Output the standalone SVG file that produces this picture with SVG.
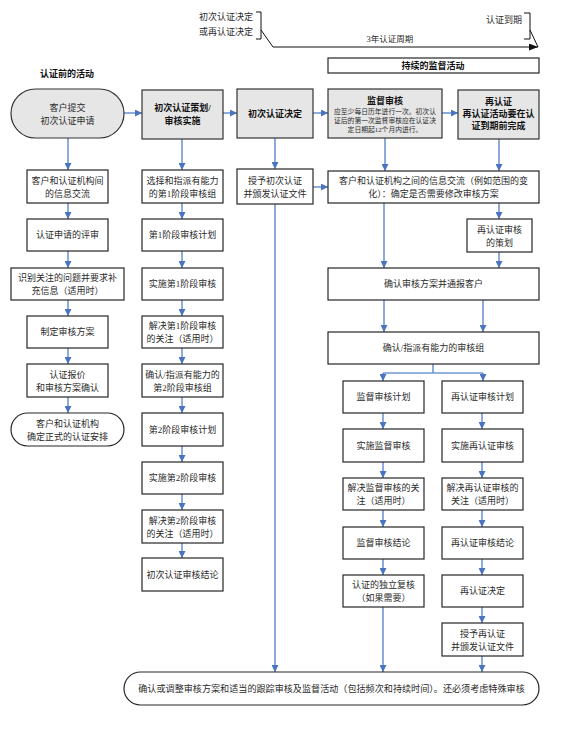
<svg xmlns="http://www.w3.org/2000/svg" width="580" height="740" viewBox="0 0 580 740">
<style>
.box{fill:#fff;stroke:#262626;stroke-width:1.2}
.hbox{fill:#e6e6e6;stroke:#333;stroke-width:1.2}
.t{font-family:"Liberation Serif","Noto Sans CJK SC",sans-serif;font-size:9px;text-anchor:middle;fill:#2a2a2a}
.b{font-weight:bold;fill:#111}
.s{font-size:6.8px}
.c{stroke:#7196d2;stroke-width:1.6;fill:none}
.k{stroke:#111;stroke-width:1;fill:none}
</style>
<defs>
<marker id="ar" markerUnits="userSpaceOnUse" markerWidth="7" markerHeight="7" refX="7" refY="3.5" orient="auto">
<path d="M0,0 L7,3.5 L0,7 z" fill="#4a74c0"/>
</marker>
<marker id="ak" markerUnits="userSpaceOnUse" markerWidth="9" markerHeight="7" refX="9" refY="3.5" orient="auto">
<path d="M0,0 L9,3.5 L0,7 z" fill="#111"/>
</marker>
</defs>

<g id="timeline">
<text class="t" x="226" y="20">初次认证决定</text>
<text class="t" x="226" y="35">或再认证决定</text>
<path class="k" d="M256,12 H261 V39 H256"/>
<path class="k" d="M261,30 L273,47 H538" marker-end="url(#ak)"/>
<text class="t" x="504" y="23">认证到期</text>
<path class="k" d="M524,13 H530 V39 H524"/>
<path class="k" d="M530,30 L538,47"/>
<text class="t" x="390" y="42" style="font-size:8.5px">3年认证周期</text>
</g>

<g id="continuing">
<rect class="box" x="328" y="58" width="211" height="15"/>
<text class="t b" x="433" y="69">持续的监督活动</text>
</g>

<g id="pre-label">
<text class="t b" x="67" y="77">认证前的活动</text>
</g>

<g id="connectors">
<path class="c" d="M124,113 H142" marker-end="url(#ar)"/>
<path class="c" d="M223,113 H237" marker-end="url(#ar)"/>
<path class="c" d="M313,113 H328" marker-end="url(#ar)"/>
<path class="c" d="M442,113 H458" marker-end="url(#ar)"/>
<path class="c" d="M68,138 V170" marker-end="url(#ar)"/>
<path class="c" d="M68,203 V219" marker-end="url(#ar)"/>
<path class="c" d="M68,251 V268" marker-end="url(#ar)"/>
<path class="c" d="M68,300 V316" marker-end="url(#ar)"/>
<path class="c" d="M68,348 V364" marker-end="url(#ar)"/>
<path class="c" d="M68,397 V413" marker-end="url(#ar)"/>
<path class="c" d="M182,139 V170" marker-end="url(#ar)"/>
<path class="c" d="M182,203 V219" marker-end="url(#ar)"/>
<path class="c" d="M182,251 V268" marker-end="url(#ar)"/>
<path class="c" d="M182,300 V316" marker-end="url(#ar)"/>
<path class="c" d="M182,348 V364" marker-end="url(#ar)"/>
<path class="c" d="M182,397 V413" marker-end="url(#ar)"/>
<path class="c" d="M182,446 V462" marker-end="url(#ar)"/>
<path class="c" d="M182,494 V510" marker-end="url(#ar)"/>
<path class="c" d="M182,543 V558" marker-end="url(#ar)"/>
<path class="c" d="M275,138 V169" marker-end="url(#ar)"/>
<path class="c" d="M275,204 V672" marker-end="url(#ar)"/>
<path class="c" d="M313,187 H328" marker-end="url(#ar)"/>
<path class="c" d="M385,138 V171" marker-end="url(#ar)"/>
<path class="c" d="M499,139 V171" marker-end="url(#ar)"/>
<path class="c" d="M499,203 V219" marker-end="url(#ar)"/>
<path class="c" d="M384,203 V268" marker-end="url(#ar)"/>
<path class="c" d="M499,252 V268" marker-end="url(#ar)"/>
<path class="c" d="M384,300 V332" marker-end="url(#ar)"/>
<path class="c" d="M483,300 V332" marker-end="url(#ar)"/>
<path class="c" d="M433,364 V373 M383,373 H483"/>
<path class="c" d="M383,373 V381" marker-end="url(#ar)"/>
<path class="c" d="M483,373 V381" marker-end="url(#ar)"/>
<path class="c" d="M383,413 V429" marker-end="url(#ar)"/>
<path class="c" d="M383,462 V478" marker-end="url(#ar)"/>
<path class="c" d="M383,510 V527" marker-end="url(#ar)"/>
<path class="c" d="M383,559 V575" marker-end="url(#ar)"/>
<path class="c" d="M383,607 V672" marker-end="url(#ar)"/>
<path class="c" d="M482,413 V429" marker-end="url(#ar)"/>
<path class="c" d="M482,462 V478" marker-end="url(#ar)"/>
<path class="c" d="M482,510 V527" marker-end="url(#ar)"/>
<path class="c" d="M482,559 V575" marker-end="url(#ar)"/>
<path class="c" d="M482,607 V623" marker-end="url(#ar)"/>
<path class="c" d="M482,656 V672" marker-end="url(#ar)"/>
</g>

<g id="n-apply"><rect class="hbox" x="11" y="89" width="113" height="49" rx="24.5"/>
<text class="t" x="67.5" y="111">客户提交</text><text class="t" x="67.5" y="124">初次认证申请</text></g>
<g id="n-plan"><rect class="hbox" x="142" y="90" width="81" height="49"/>
<text class="t b" x="182.5" y="111">初次认证策划/</text><text class="t b" x="182.5" y="124">审核实施</text></g>
<g id="n-decide"><rect class="hbox" x="237" y="89" width="76" height="49"/>
<text class="t b" x="275" y="117">初次认证决定</text></g>
<g id="n-surv"><rect class="hbox" x="328" y="89" width="114" height="49"/>
<text class="t b" x="385" y="104">监督审核</text>
<text class="t s" x="385" y="114">应至少每日历年进行一次。初次认</text>
<text class="t s" x="385" y="123">证后的第一次监督审核应在认证决</text>
<text class="t s" x="385" y="132">定日期起12个月内进行。</text></g>
<g id="n-recert"><rect class="hbox" x="458" y="90" width="81" height="49"/>
<text class="t b" x="498.5" y="105">再认证</text>
<text class="t b" x="498.5" y="117">再认证活动要在认</text>
<text class="t b" x="498.5" y="129">证到期前完成</text></g>

<g id="n-c1-1"><rect class="box" x="27" y="170" width="81" height="33"/>
<text class="t" x="67.5" y="184">客户和认证机构间</text><text class="t" x="67.5" y="197">的信息交流</text></g>
<g id="n-c1-2"><rect class="box" x="27" y="219" width="81" height="32"/>
<text class="t" x="67.5" y="238">认证申请的评审</text></g>
<g id="n-c1-3"><rect class="box" x="11" y="268" width="113" height="32"/>
<text class="t" x="67.5" y="281">识别关注的问题并要求补</text><text class="t" x="67.5" y="294">充信息（适用时）</text></g>
<g id="n-c1-4"><rect class="box" x="27" y="316" width="81" height="32"/>
<text class="t" x="67.5" y="335">制定审核方案</text></g>
<g id="n-c1-5"><rect class="box" x="27" y="364" width="81" height="33"/>
<text class="t" x="67.5" y="378">认证报价</text><text class="t" x="67.5" y="391">和审核方案确认</text></g>
<g id="n-c1-6"><rect class="box" x="11" y="413" width="113" height="33" rx="16.5"/>
<text class="t" x="67.5" y="427">客户和认证机构</text><text class="t" x="67.5" y="440">确定正式的认证安排</text></g>

<g id="n-c2-1"><rect class="box" x="142" y="170" width="81" height="33"/>
<text class="t" x="182.5" y="184">选择和指派有能力</text><text class="t" x="182.5" y="197">的第1阶段审核组</text></g>
<g id="n-c2-2"><rect class="box" x="142" y="219" width="81" height="32"/>
<text class="t" x="182.5" y="238">第1阶段审核计划</text></g>
<g id="n-c2-3"><rect class="box" x="142" y="268" width="81" height="32"/>
<text class="t" x="182.5" y="287">实施第1阶段审核</text></g>
<g id="n-c2-4"><rect class="box" x="142" y="316" width="81" height="32"/>
<text class="t" x="182.5" y="329">解决第1阶段审核</text><text class="t" x="182.5" y="342">的关注（适用时）</text></g>
<g id="n-c2-5"><rect class="box" x="142" y="364" width="81" height="33"/>
<text class="t" x="182.5" y="378">确认/指派有能力的</text><text class="t" x="182.5" y="391">第2阶段审核组</text></g>
<g id="n-c2-6"><rect class="box" x="142" y="413" width="81" height="33"/>
<text class="t" x="182.5" y="433">第2阶段审核计划</text></g>
<g id="n-c2-7"><rect class="box" x="142" y="462" width="81" height="32"/>
<text class="t" x="182.5" y="481">实施第2阶段审核</text></g>
<g id="n-c2-8"><rect class="box" x="142" y="510" width="81" height="33"/>
<text class="t" x="182.5" y="524">解决第2阶段审核</text><text class="t" x="182.5" y="537">的关注（适用时）</text></g>
<g id="n-c2-9"><rect class="box" x="142" y="558" width="81" height="33"/>
<text class="t" x="182.5" y="578">初次认证审核结论</text></g>

<g id="n-c3-1"><rect class="box" x="237" y="169" width="76" height="35"/>
<text class="t" x="275" y="184">授予初次认证</text><text class="t" x="275" y="197">并颁发认证文件</text></g>

<g id="n-r-info"><rect class="box" x="328" y="171" width="211" height="32"/>
<text class="t" x="433.5" y="184">客户和认证机构之间的信息交流（例如范围的变</text>
<text class="t" x="433.5" y="197">化）：确定是否需要修改审核方案</text></g>
<g id="n-r-plan"><rect class="box" x="467" y="219" width="65" height="33"/>
<text class="t" x="499.5" y="233">再认证审核</text><text class="t" x="499.5" y="246">的策划</text></g>
<g id="n-r-prog"><rect class="box" x="328" y="268" width="211" height="32"/>
<text class="t" x="433.5" y="287">确认审核方案并通报客户</text></g>
<g id="n-r-team"><rect class="box" x="328" y="332" width="211" height="32"/>
<text class="t" x="433.5" y="351">确认/指派有能力的审核组</text></g>

<g id="n-s-1"><rect class="box" x="343" y="381" width="81" height="32"/>
<text class="t" x="383.5" y="400">监督审核计划</text></g>
<g id="n-s-2"><rect class="box" x="343" y="429" width="81" height="33"/>
<text class="t" x="383.5" y="449">实施监督审核</text></g>
<g id="n-s-3"><rect class="box" x="343" y="478" width="81" height="32"/>
<text class="t" x="383.5" y="491">解决监督审核的关</text><text class="t" x="383.5" y="504">注（适用时）</text></g>
<g id="n-s-4"><rect class="box" x="343" y="527" width="81" height="32"/>
<text class="t" x="383.5" y="546">监督审核结论</text></g>
<g id="n-s-5"><rect class="box" x="343" y="575" width="81" height="32"/>
<text class="t" x="383.5" y="588">认证的独立复核</text><text class="t" x="383.5" y="601">（如果需要）</text></g>

<g id="n-rc-1"><rect class="box" x="442" y="381" width="81" height="32"/>
<text class="t" x="482.5" y="400">再认证审核计划</text></g>
<g id="n-rc-2"><rect class="box" x="442" y="429" width="81" height="33"/>
<text class="t" x="482.5" y="449">实施再认证审核</text></g>
<g id="n-rc-3"><rect class="box" x="442" y="478" width="81" height="32"/>
<text class="t" x="482.5" y="491">解决再认证审核的</text><text class="t" x="482.5" y="504">关注（适用时）</text></g>
<g id="n-rc-4"><rect class="box" x="442" y="527" width="81" height="32"/>
<text class="t" x="482.5" y="546">再认证审核结论</text></g>
<g id="n-rc-5"><rect class="box" x="442" y="575" width="81" height="32"/>
<text class="t" x="482.5" y="594">再认证决定</text></g>
<g id="n-rc-6"><rect class="box" x="442" y="623" width="81" height="33"/>
<text class="t" x="482.5" y="637">授予再认证</text><text class="t" x="482.5" y="650">并颁发认证文件</text></g>

<g id="n-final"><rect class="box" x="124" y="672" width="415" height="33" rx="16.5"/>
<text class="t" x="331.5" y="692" style="font-size:9.1px">确认或调整审核方案和适当的跟踪审核及监督活动（包括频次和持续时间）。还必须考虑特殊审核</text></g>
</svg>
